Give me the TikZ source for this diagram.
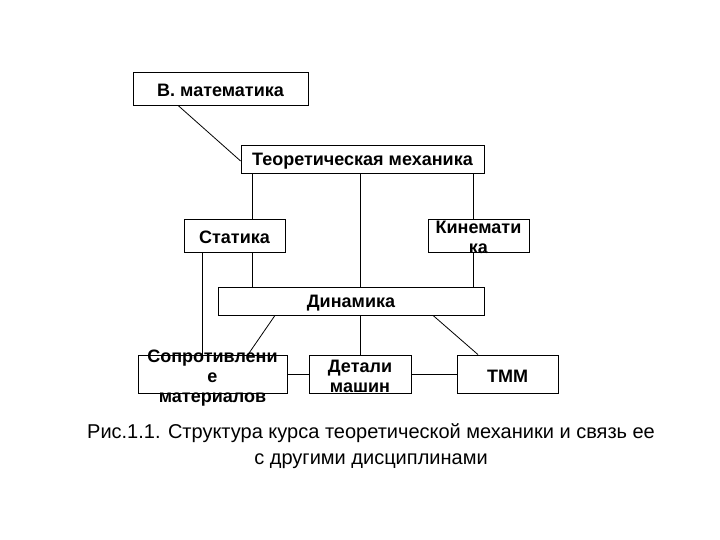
\documentclass[tikz,border=0pt]{standalone}
\usepackage{fontspec}
\setmainfont{Liberation Sans}
\usetikzlibrary{positioning,calc}

\tikzset{
  blk/.style={draw, line width=0.8pt, minimum width=#1, inner sep=0pt},
  txt/.style={align=center, yshift=-2pt, font=\bfseries\fontsize{18}{20}\selectfont},
  lnk/.style={line width=0.8pt}
}

\begin{document}
\begin{tikzpicture}[x=1pt,y=-1pt]
  \useasboundingbox (0,0) rectangle (720,540);

  % blocks
  \node[blk=175pt, minimum height=33pt, label={[txt]center:В. математика}] (vm) at (220.5,88.5) {};
  \node[blk=243pt, minimum height=28pt, label={[txt]center:Теоретическая механика}] (teor) at (362.5,159) {};
  \node[blk=101pt, minimum height=33pt, label={[txt]center:Статика}] (stat) at (234.5,235.5) {};
  \node[blk=101pt, minimum height=33pt, label={[txt]center:Кинемати\\ка}] (kin) at (478.5,235.5) {};
  \node[blk=266pt, minimum height=28pt, label={[txt]center:Динамика}] (din) at (351,301) {};
  \node[blk=149pt, minimum height=38pt, label={[txt,yshift=-2pt]center:Сопротивлени\\е\\материалов}] (sopr) at (212.5,374) {};
  \node[blk=102pt, minimum height=38pt, label={[txt]center:Детали\\машин}] (det) at (360,374) {};
  \node[blk=101pt, minimum height=38pt, label={[txt]center:ТММ}] (tmm) at (507.5,374) {};

  \coordinate (cl) at (252,0);
  \coordinate (cm) at (360,0);
  \coordinate (cr) at (473,0);
  \coordinate (cs) at (202,0);

  % connectors
  \draw[lnk] ($(vm.south)+(-42.5,0)$) -- ($(teor.west)+(0,2)$);
  \draw[lnk] (teor.south -| cl) -- (stat.north -| cl);
  \draw[lnk] (stat.south -| cl) -- (din.north -| cl);
  \draw[lnk] (teor.south -| cm) -- (din.north -| cm);
  \draw[lnk] (teor.south -| cr) -- (kin.north -| cr);
  \draw[lnk] (kin.south -| cr) -- (din.north -| cr);
  \draw[lnk] (stat.south -| cs) -- (sopr.north -| cs);
  \draw[lnk] ($(din.south)+(-76,0)$) -- ($(sopr.north)+(35.5,0)$);
  \draw[lnk] (din.south -| cm) -- (det.north);
  \draw[lnk] ($(din.south)+(82,0)$) -- ($(tmm.north)+(-29.5,0)$);
  \draw[lnk] (sopr.east) -- (det.west);
  \draw[lnk] (det.east) -- (tmm.west);

  % caption
  \node[align=center, font=\fontsize{20}{26}\selectfont] (cap) at (371,446)
    {Рис.1.1. Структура курса теоретической механики и связь ее\\с другими дисциплинами};
\end{tikzpicture}
\end{document}
